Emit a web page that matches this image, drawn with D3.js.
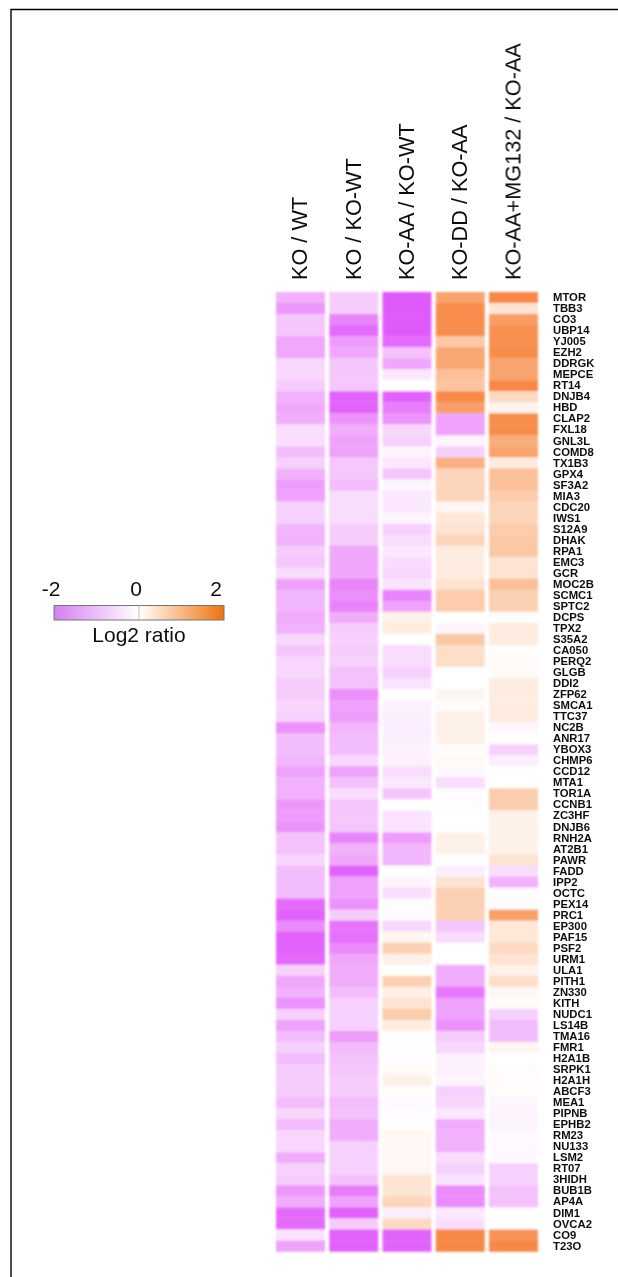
<!DOCTYPE html>
<html>
<head>
<meta charset="utf-8">
<script src="https://cdn.jsdelivr.net/npm/d3@7"></script>
<style>
  html, body { margin: 0; padding: 0; background: #fff; }
  svg { display: block; }
  text { font-family: "Liberation Sans", Arial, sans-serif; fill: #111; }
  .axis path { display: none; }
</style>
</head>
<body>
<svg></svg>
<script>
let width = 618;
let height = 1277;

const conditions = ['KO / WT', 'KO / KO-WT', 'KO-AA / KO-WT', 'KO-DD / KO-AA', 'KO-AA+MG132 / KO-AA'];

const proteins = ['MTOR','TBB3','CO3','UBP14','YJ005','EZH2','DDRGK','MEPCE','RT14','DNJB4',
    'HBD','CLAP2','FXL18','GNL3L','COMD8','TX1B3','GPX4','SF3A2','MIA3','CDC20',
    'IWS1','S12A9','DHAK','RPA1','EMC3','GCR','MOC2B','SCMC1','SPTC2','DCPS',
    'TPX2','S35A2','CA050','PERQ2','GLGB','DDI2','ZFP62','SMCA1','TTC37','NC2B',
    'ANR17','YBOX3','CHMP6','CCD12','MTA1','TOR1A','CCNB1','ZC3HF','DNJB6','RNH2A',
    'AT2B1','PAWR','FADD','IPP2','OCTC','PEX14','PRC1','EP300','PAF15','PSF2',
    'URM1','ULA1','PITH1','ZN330','KITH','NUDC1','LS14B','TMA16','FMR1','H2A1B',
    'SRPK1','H2A1H','ABCF3','MEA1','PIPNB','EPHB2','RM23','NU133','LSM2','RT07',
    '3HIDH','BUB1B','AP4A','DIM1','OVCA2','CO9','T23O'];

// log2 ratios, one array per column
const koWt = [-0.7,-0.95,-0.5,-0.5,-0.8,-0.8,-0.35,-0.35,-0.45,-0.7,
    -0.8,-0.75,-0.3,-0.3,-0.6,-0.4,-0.7,-0.9,-0.85,-0.4,
    -0.4,-0.65,-0.7,-0.45,-0.5,-0.3,-0.85,-0.65,-0.65,-0.75,
    -0.7,-0.35,-0.5,-0.35,-0.35,-0.45,-0.45,-0.35,-0.4,-1.0,
    -0.6,-0.6,-0.65,-0.85,-0.7,-0.7,-0.95,-0.9,-1.0,-0.55,
    -0.55,-0.35,-0.6,-0.6,-0.6,-1.6,-1.7,-1.1,-1.7,-1.7,
    -1.6,-0.4,-0.8,-0.7,-1.0,-0.4,-0.85,-0.6,-0.4,-0.6,
    -0.45,-0.45,-0.45,-0.6,-0.35,-0.6,-0.35,-0.35,-0.75,-0.4,
    -0.45,-0.95,-0.75,-1.6,-1.6,-0.25,-0.85];

const koKoWt = [-0.45,-0.45,-1.2,-1.6,-0.9,-0.8,-0.5,-0.5,-0.5,-1.7,
    -1.7,-1.0,-0.75,-0.85,-0.85,-0.5,-0.5,-0.6,-0.3,-0.3,
    -0.3,-0.45,-0.45,-0.8,-0.8,-0.8,-1.2,-1.05,-1.25,-0.75,
    -0.45,-0.4,-0.45,-0.4,-0.55,-0.55,-1.05,-0.85,-0.9,-0.65,
    -0.6,-0.6,-0.35,-0.85,-0.55,-0.3,-0.5,-0.5,-0.5,-1.2,
    -0.7,-0.8,-1.7,-0.85,-0.85,-1.0,-0.45,-1.45,-1.5,-1.1,
    -0.8,-0.75,-0.75,-0.6,-0.4,-0.4,-0.4,-0.9,-0.6,-0.55,
    -0.5,-0.45,-0.45,-0.6,-0.55,-0.75,-0.75,-0.4,-0.4,-0.4,
    -0.55,-1.35,-0.85,-1.75,-0.45,-1.75,-1.75];

const koAaKoWt = [-1.85,-1.85,-1.85,-1.85,-1.6,-0.55,-0.8,-0.2,0,-1.7,
    -1.3,-1.0,-0.35,-0.4,-0.1,-0.2,-0.5,-0.08,-0.2,-0.2,
    -0.1,-0.4,-0.3,-0.2,-0.3,-0.35,-0.25,-1.2,-0.85,0.15,
    0.2,0,-0.3,-0.3,-0.4,-0.25,0,-0.12,-0.15,-0.15,
    -0.15,-0.12,-0.12,-0.3,-0.2,-0.5,0,-0.25,-0.25,-0.9,
    -0.65,-0.65,0,-0.1,-0.3,-0.03,-0.03,-0.35,0.1,0.5,
    0.15,0,0.5,0.18,0.3,0.55,0.2,0,-0.03,-0.03,
    0.05,0.15,0.03,-0.05,-0.03,0,0.08,0.08,0.08,0.08,
    0.28,0.28,0.45,-0.15,0.4,-1.7,-1.7];

const koDdKoAa = [1.1,1.6,1.6,1.6,0.6,1.0,1.05,0.7,0.65,1.65,
    1.2,-0.85,-0.85,-0.1,-0.4,0.9,0.45,0.45,0.45,0.1,
    0.25,0.3,0.45,0.2,0.2,0.2,0.3,0.55,0.55,0,
    -0.08,0.6,0.35,0.35,0,0,0.1,0.02,0.15,0.15,
    0.15,0.03,0.05,-0.05,-0.3,-0.02,-0.03,0,0,0.15,
    0.15,0,-0.15,0.3,0.5,0.5,0.5,-0.5,-0.3,0,
    0,-0.75,-0.75,-1.4,-0.85,-0.85,-1.0,-0.45,-0.35,-0.12,
    -0.12,-0.1,-0.4,-0.35,-0.2,-0.75,-0.7,-0.7,-0.3,-0.4,
    -0.25,-1.1,-1.1,-0.2,-0.3,1.7,1.7];

const koAaMgKoAa = [1.7,0.3,1.25,1.55,1.55,1.6,1.1,1.1,1.7,0.4,
    0.12,1.6,1.6,0.95,1.1,0.2,0.7,0.7,0.55,0.45,
    0.45,0.55,0.6,0.6,0.3,0.3,0.7,0.5,0.5,0.02,
    0.2,0.2,0.02,0.04,0.04,0.2,0.2,0.2,0.2,-0.08,
    0,-0.4,-0.15,0,0,0.55,0.55,0.15,0.15,0.15,
    0.15,0.3,-0.3,-0.7,-0.03,-0.03,1.2,0.25,0.25,0.4,
    0.3,0.15,0.35,0.08,0.03,-0.4,-0.6,-0.6,0.1,0,
    0.03,0.03,0.02,-0.08,-0.1,-0.1,-0.05,-0.05,-0.05,-0.4,
    -0.4,-0.55,-0.55,0,-0.02,1.45,1.7];

const seriesValues = [koWt, koKoWt, koAaKoWt, koDdKoAa, koAaMgKoAa];
const legendTicks = [-2, 0, 2];

let svg = d3.select('svg')
    .attr('width', width)
    .attr('height', height);

// the source is a slightly soft raster image
let defs = svg.append('defs');
defs.append('filter').attr('id', 'soft')
    .append('feGaussianBlur').attr('stdDeviation', 0.9);
defs.append('filter').attr('id', 'softText')
    .append('feGaussianBlur').attr('stdDeviation', 0.3);

let xScale = d3.scaleBand()
    .domain(conditions)
    .range([276, 538])
    .paddingInner(0.08);

let yScale = d3.scaleBand()
    .domain(proteins)
    .range([292, 1251.5]);

let colorScale = d3.scaleLinear()
    .domain([-2, -1, -0.5, 0, 0.5, 1, 2])
    .range(['#de50fb', '#ec92fb', '#f5c6fc', '#ffffff', '#fcd0b2', '#f9a875', '#f67a30']);

// frame lines along the top and left of the panel
svg.append('path')
    .attr('d', `M11,${height} V9.5 H${width}`)
    .attr('fill', 'none')
    .attr('stroke', '#000')
    .attr('stroke-width', 1.4);

// heatmap cells
let cells = svg.append('g').attr('filter', 'url(#soft)');

let columnGroup = cells.selectAll('g.column')
    .data(seriesValues)
    .enter()
    .append('g')
    .classed('column', true)
    .attr('transform', (d, i) => `translate(${xScale(conditions[i])},0)`);

columnGroup.selectAll('rect')
    .data(d => d)
    .enter()
    .append('rect')
    .attr('x', 0)
    .attr('y', (d, i) => yScale(proteins[i]))
    .attr('width', xScale.bandwidth())
    .attr('height', yScale.bandwidth() + 0.3)
    .style('fill', d => colorScale(d));

// column titles, rotated
svg.append('g')
    .attr('filter', 'url(#softText)')
    .selectAll('text')
    .data(conditions)
    .enter()
    .append('text')
    .attr('transform', d => `translate(${xScale(d) + xScale.bandwidth() / 2 + 7},280) rotate(-90)`)
    .style('font-size', '21.7px')
    .text(d => d);

// protein names on the right
let rowAxis = svg.append('g')
    .classed('axis', true)
    .attr('transform', 'translate(553,0)')
    .attr('filter', 'url(#softText)')
    .call(d3.axisRight(yScale).tickSize(0).tickPadding(0));

rowAxis.selectAll('text')
    .style('font-size', '11.3px')
    .style('font-weight', 'bold');

// colour legend
let grad = defs.append('linearGradient').attr('id', 'legendGrad');
grad.selectAll('stop')
    .data([['0%', '#d67ff0'], ['50%', '#ffffff'], ['100%', '#f0720c']])
    .enter()
    .append('stop')
    .attr('offset', d => d[0])
    .attr('stop-color', d => d[1]);

let legendLabelScale = d3.scaleLinear()
    .domain(legendTicks)
    .range([51, 136, 216]);

let legend = svg.append('g').attr('filter', 'url(#softText)');

legend.append('rect')
    .attr('x', 54)
    .attr('y', 605.5)
    .attr('width', 170)
    .attr('height', 14.5)
    .attr('fill', 'url(#legendGrad)')
    .attr('stroke', '#777')
    .attr('stroke-width', 1);

legend.append('line')
    .attr('x1', 139).attr('x2', 139)
    .attr('y1', 605.5).attr('y2', 620)
    .attr('stroke', '#bbb');

legend.selectAll('text.tick')
    .data(legendTicks)
    .enter()
    .append('text')
    .classed('tick', true)
    .attr('x', d => legendLabelScale(d))
    .attr('y', 596)
    .attr('text-anchor', 'middle')
    .style('font-size', '21px')
    .text(d => d);

legend.append('text')
    .attr('x', 139)
    .attr('y', 642)
    .attr('text-anchor', 'middle')
    .style('font-size', '21px')
    .text('Log2 ratio');
</script>
</body>
</html>
